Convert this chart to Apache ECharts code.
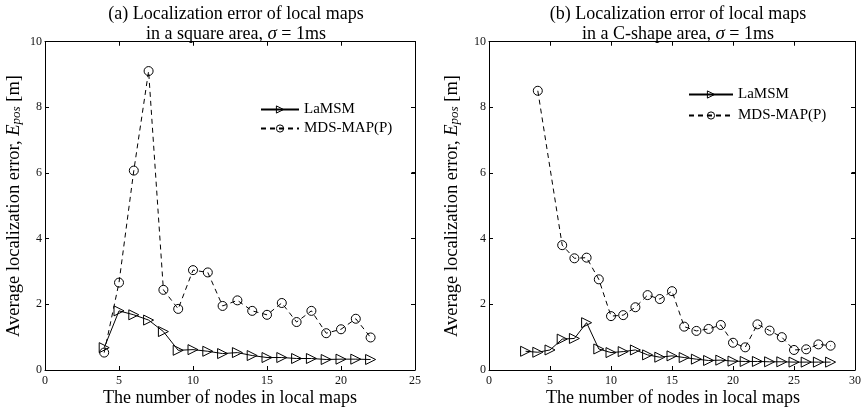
<!DOCTYPE html>
<html>
<head>
<meta charset="utf-8">
<script src="https://cdn.jsdelivr.net/npm/echarts@6/dist/echarts.min.js"></script>
<style>
  html, body { margin: 0; padding: 0; background: #fff; }
  #chart { width: 864px; height: 416px; }
</style>
</head>
<body>
<div id="chart"></div>
<script>
// (a) square area
const nodesA = [4, 5, 6, 7, 8, 9, 10, 11, 12, 13, 14, 15, 16, 17, 18, 19, 20, 21, 22]
const lamsmA = [0.68, 1.8, 1.68, 1.52, 1.17, 0.6, 0.62, 0.57, 0.5, 0.53, 0.44, 0.38, 0.38, 0.35, 0.35, 0.32, 0.33, 0.33, 0.32]
const mdsA = [0.53, 2.66, 6.07, 9.1, 2.44, 1.86, 3.04, 2.97, 1.95, 2.12, 1.8, 1.68, 2.04, 1.46, 1.8, 1.12, 1.24, 1.56, 0.99]
// (b) C-shape area
const nodesLamsmB = [3, 4, 5, 6, 7, 8, 9, 10, 11, 12, 13, 14, 15, 16, 17, 18, 19, 20, 21, 22, 23, 24, 25, 26, 27, 28]
const lamsmB = [0.57, 0.54, 0.61, 0.94, 0.96, 1.44, 0.64, 0.53, 0.56, 0.61, 0.46, 0.39, 0.43, 0.38, 0.33, 0.29, 0.3, 0.27, 0.26, 0.26, 0.25, 0.25, 0.24, 0.24, 0.24, 0.24]
const nodesMdsB = [4, 6, 7, 8, 9, 10, 11, 12, 13, 14, 15, 16, 17, 18, 19, 20, 21, 22, 23, 24, 25, 26, 27, 28]
const mdsB = [8.5, 3.8, 3.4, 3.42, 2.76, 1.64, 1.67, 1.91, 2.28, 2.16, 2.4, 1.32, 1.19, 1.25, 1.37, 0.83, 0.69, 1.39, 1.2, 1.0, 0.61, 0.63, 0.78, 0.74]
const yTicks = [0, 2, 4, 6, 8, 10]
const xTicksA = [0, 5, 10, 15, 20, 25]
const xTicksB = [0, 5, 10, 15, 20, 25, 30]

const font = 'Liberation Serif'
const triangle = 'path://M0,0 L10,5 L0,10 Z'
const pairs = (xs, ys) => xs.map((x, i) => [x, ys[i]])

const chart = echarts.init(document.getElementById('chart'))

const xAxisBase = (grid, max, pos) => ({
  type: 'value', gridIndex: grid, position: pos, min: 0, max: max, interval: 5,
  axisLine: { show: true, onZero: false, lineStyle: { color: '#000', width: 1 } },
  axisTick: { show: true, inside: true, length: 4, lineStyle: { color: '#000' } },
  axisLabel: { show: pos === 'bottom', color: '#111', fontFamily: font, fontSize: 12, margin: 5 },
  splitLine: { show: false }
})
const yAxisBase = (grid, pos) => ({
  type: 'value', gridIndex: grid, position: pos, min: 0, max: yTicks[yTicks.length - 1], interval: 2,
  axisLine: { show: true, onZero: false, lineStyle: { color: '#000', width: 1 } },
  axisTick: { show: true, inside: true, length: 4, lineStyle: { color: '#000' } },
  axisLabel: { show: pos === 'left', color: '#111', fontFamily: font, fontSize: 12, margin: 3 },
  splitLine: { show: false }
})

const hollow = { color: 'rgba(0,0,0,0)', borderColor: '#000', borderWidth: 1 }

const lamsmStyle = {
  type: 'line',
  symbol: triangle,
  symbolSize: 10,
  showAllSymbol: true,
  lineStyle: { color: '#000', width: 1 },
  itemStyle: hollow,
  emphasis: { disabled: true },
  z: 3
}
const mdsStyle = {
  type: 'line',
  symbol: 'circle',
  symbolSize: 9,
  showAllSymbol: true,
  lineStyle: { color: '#000', width: 1, type: [5, 4] },
  itemStyle: hollow,
  emphasis: { disabled: true },
  z: 2
}

const titleStyle = {
  color: '#000', fontFamily: font, fontSize: 18, fontWeight: 'normal', lineHeight: 20,
  rich: {
    g: { fontFamily: font, fontSize: 19, fontStyle: 'italic', color: '#000', lineHeight: 20 }
  }
}

const legendStyle = {
  orient: 'vertical',
  itemHeight: 9,
  textStyle: { color: '#000', fontFamily: font, fontSize: 15 },
  selectedMode: false,
  data: [
    { name: 'LaMSM', itemStyle: hollow },
    { name: 'MDS-MAP(P)', itemStyle: hollow }
  ]
}

// axis titles as plain text elements
const xNameText = (cx) => ({
  type: 'text', x: cx, y: 398, z: 10,
  style: { text: 'The number of nodes in local maps', fill: '#000', font: '18px "Liberation Serif"', align: 'center', verticalAlign: 'middle' }
})
const yNameText = (cx) => ({
  type: 'text', x: cx, y: 206, rotation: Math.PI / 2, z: 10,
  style: {
    text: 'Average localization error, {i|E}{s|pos} [m]',
    fill: '#000', fontFamily: font, fontSize: 18.5, align: 'center', verticalAlign: 'middle',
    rich: {
      i: { fontFamily: font, fontSize: 18.5, fontStyle: 'italic', fill: '#000' },
      s: { fontFamily: font, fontSize: 13, fontStyle: 'italic', fill: '#000', verticalAlign: 'bottom', padding: [6, 0, 0, 0] }
    }
  }
})

let option = {
  animation: false,
  title: [
    { text: '(a) Localization error of local maps\nin a square area, {g|σ} = 1ms', left: 231, top: -1, textAlign: 'center', textStyle: titleStyle },
    { text: '(b) Localization error of local maps\nin a C-shape area, {g|σ} = 1ms', left: 673, top: -1, textAlign: 'center', textStyle: titleStyle }
  ],
  legend: [
    Object.assign({ left: 255, top: 97, itemWidth: 38, itemGap: 4 }, legendStyle),
    Object.assign({ left: 683, top: 82, itemWidth: 44, itemGap: 6 }, legendStyle)
  ],
  graphic: [xNameText(230), xNameText(673), yNameText(14), yNameText(452)],
  grid: [
    { left: 45, right: 449, top: 41.5, bottom: 46 },
    { left: 489, right: 6, top: 41.5, bottom: 46 }
  ],
  xAxis: [
    xAxisBase(0, xTicksA[xTicksA.length - 1], 'bottom'),
    xAxisBase(0, xTicksA[xTicksA.length - 1], 'top'),
    xAxisBase(1, xTicksB[xTicksB.length - 1], 'bottom'),
    xAxisBase(1, xTicksB[xTicksB.length - 1], 'top')
  ],
  yAxis: [
    yAxisBase(0, 'left'),
    yAxisBase(0, 'right'),
    yAxisBase(1, 'left'),
    yAxisBase(1, 'right')
  ],
  series: [
    Object.assign({ name: 'LaMSM', xAxisIndex: 0, yAxisIndex: 0, data: pairs(nodesA, lamsmA) }, lamsmStyle),
    Object.assign({ name: 'MDS-MAP(P)', xAxisIndex: 1, yAxisIndex: 1, data: pairs(nodesA, mdsA) }, mdsStyle),
    Object.assign({ name: 'LaMSM', xAxisIndex: 2, yAxisIndex: 2, data: pairs(nodesLamsmB, lamsmB) }, lamsmStyle),
    Object.assign({ name: 'MDS-MAP(P)', xAxisIndex: 3, yAxisIndex: 3, data: pairs(nodesMdsB, mdsB) }, mdsStyle)
  ]
}
try {
  chart.setOption(option)
} catch (e) {
  console.error(e)
}

// top and right box edges with inward ticks, placed through each panel's series scale
const crisp = (v) => Math.round(v - 0.5) + 0.5
const drawBox = (seriesIndex, xTicks) => {
  const zr = chart.getZr()
  const px = (x, y) => chart.convertToPixel({ seriesIndex: seriesIndex }, [x, y])
  const xMax = xTicks[xTicks.length - 1]
  const yMax = yTicks[yTicks.length - 1]
  const tl = px(0, yMax)
  const br = px(xMax, 0)
  const top = crisp(tl[1])
  const right = crisp(br[0])
  const seg = (x1, y1, x2, y2) => zr.add(new echarts.graphic.Line({
    shape: { x1: x1, y1: y1, x2: x2, y2: y2 },
    style: { stroke: '#000', lineWidth: 1 },
    z: 100
  }))
  seg(tl[0], top, right, top)
  seg(right, top, right, br[1])
  xTicks.slice(1, -1).forEach((t) => {
    const x = crisp(px(t, 0)[0])
    seg(x, top, x, top + 4)
  })
  yTicks.slice(1, -1).forEach((t) => {
    const y = crisp(px(0, t)[1])
    seg(right - 4, y, right, y)
  })
}
try {
  drawBox(0, xTicksA)
  drawBox(2, xTicksB)
} catch (e) {
  console.error(e)
}

window.addEventListener('resize', () => {
  chart.resize()
})
</script>
</body>
</html>
